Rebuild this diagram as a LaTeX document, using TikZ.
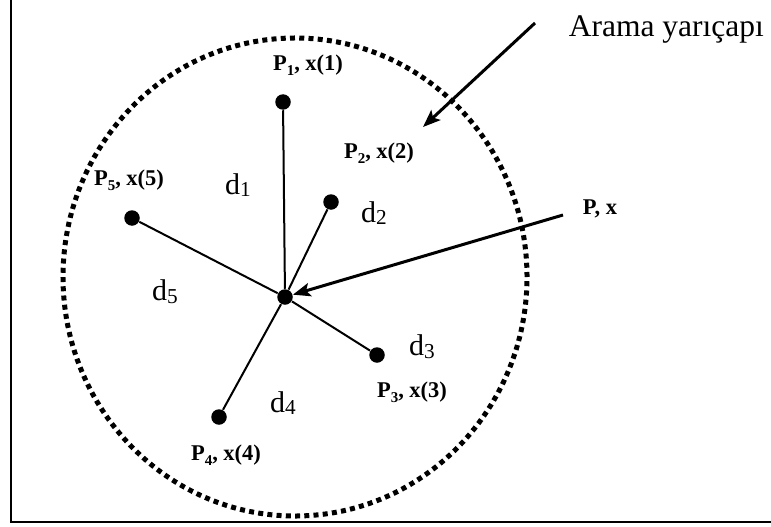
\documentclass[tikz,border=0pt]{standalone}
\usepackage{fontspec}
\setmainfont{Liberation Serif}
\usetikzlibrary{arrows.meta}

\newcommand{\lbl}[2]{\textbf{P\raisebox{-0.45ex}{\fontsize{6}{6}\selectfont #1}, x(#2)}}
\newcommand{\dd}[1]{d\raisebox{-0.2ex}{\fontsize{8.5}{8.5}\selectfont #1}}

\begin{document}
\begin{tikzpicture}[
    x=0.4pt, y=-0.4pt,
    pt/.style={circle, fill, inner sep=0pt, minimum size=6.2pt},
    edge/.style={line width=0.8pt},
    arrow/.style={-{Stealth[length=7pt, width=5.4pt, inset=1.5pt]}, line width=1.2pt},
    rim/.style={line width=2pt, dash pattern=on 2pt off 1.7pt},
    plabel/.style={font=\fontsize{9}{10}\selectfont},
    dlabel/.style={font=\fontsize{12}{13}\selectfont}
]
\useasboundingbox (0,0) rectangle (771,526);
\clip (0,0) rectangle (771,526);

% frame
\draw[line width=0.9pt] (11,-20) rectangle (800,522);

% search circle
\draw[rim] (295,277) ellipse [x radius=92.8pt, y radius=95.6pt];

% points
\node[pt] (c) at (285,297) {};
\node[pt] (p1) at (283,102) {};
\node[pt] (p2) at (331,202) {};
\node[pt] (p3) at (377,355) {};
\node[pt] (p4) at (219,417) {};
\node[pt] (p5) at (132,218) {};

\node[plabel] (l1) at (308,65) {\lbl{1}{1}};
\node[plabel] (l2) at (379,153) {\lbl{2}{2}};
\node[plabel] (l3) at (412,392) {\lbl{3}{3}};
\node[plabel] (l4) at (226,455) {\lbl{4}{4}};
\node[plabel] (l5) at (129,180) {\lbl{5}{5}};
\node[plabel] (lp) at (600,209) {\textbf{P, x}};

\node[dlabel] (d1) at (238,185) {\dd{1}};
\node[dlabel] (d2) at (374,213) {\dd{2}};
\node[dlabel] (d3) at (422,347) {\dd{3}};
\node[dlabel] (d4) at (283,403) {\dd{4}};
\node[dlabel] (d5) at (165,292) {\dd{5}};

\node[font=\fontsize{12.6}{14}\selectfont, anchor=west] (radius) at (560,30) {Arama yarıçapı};

\coordinate (ps) at (563,215);
\coordinate (rs) at (535,23);
\coordinate (re) at (423,127);

\draw[edge] (c) -- (p1);
\draw[edge] (c) -- (p2);
\draw[edge] (c) -- (p3);
\draw[edge] (c) -- (p4);
\draw[edge] (c) -- (p5);

\draw[arrow] (ps) -- (c);
\draw[arrow] (rs) -- (re);

\end{tikzpicture}
\end{document}
